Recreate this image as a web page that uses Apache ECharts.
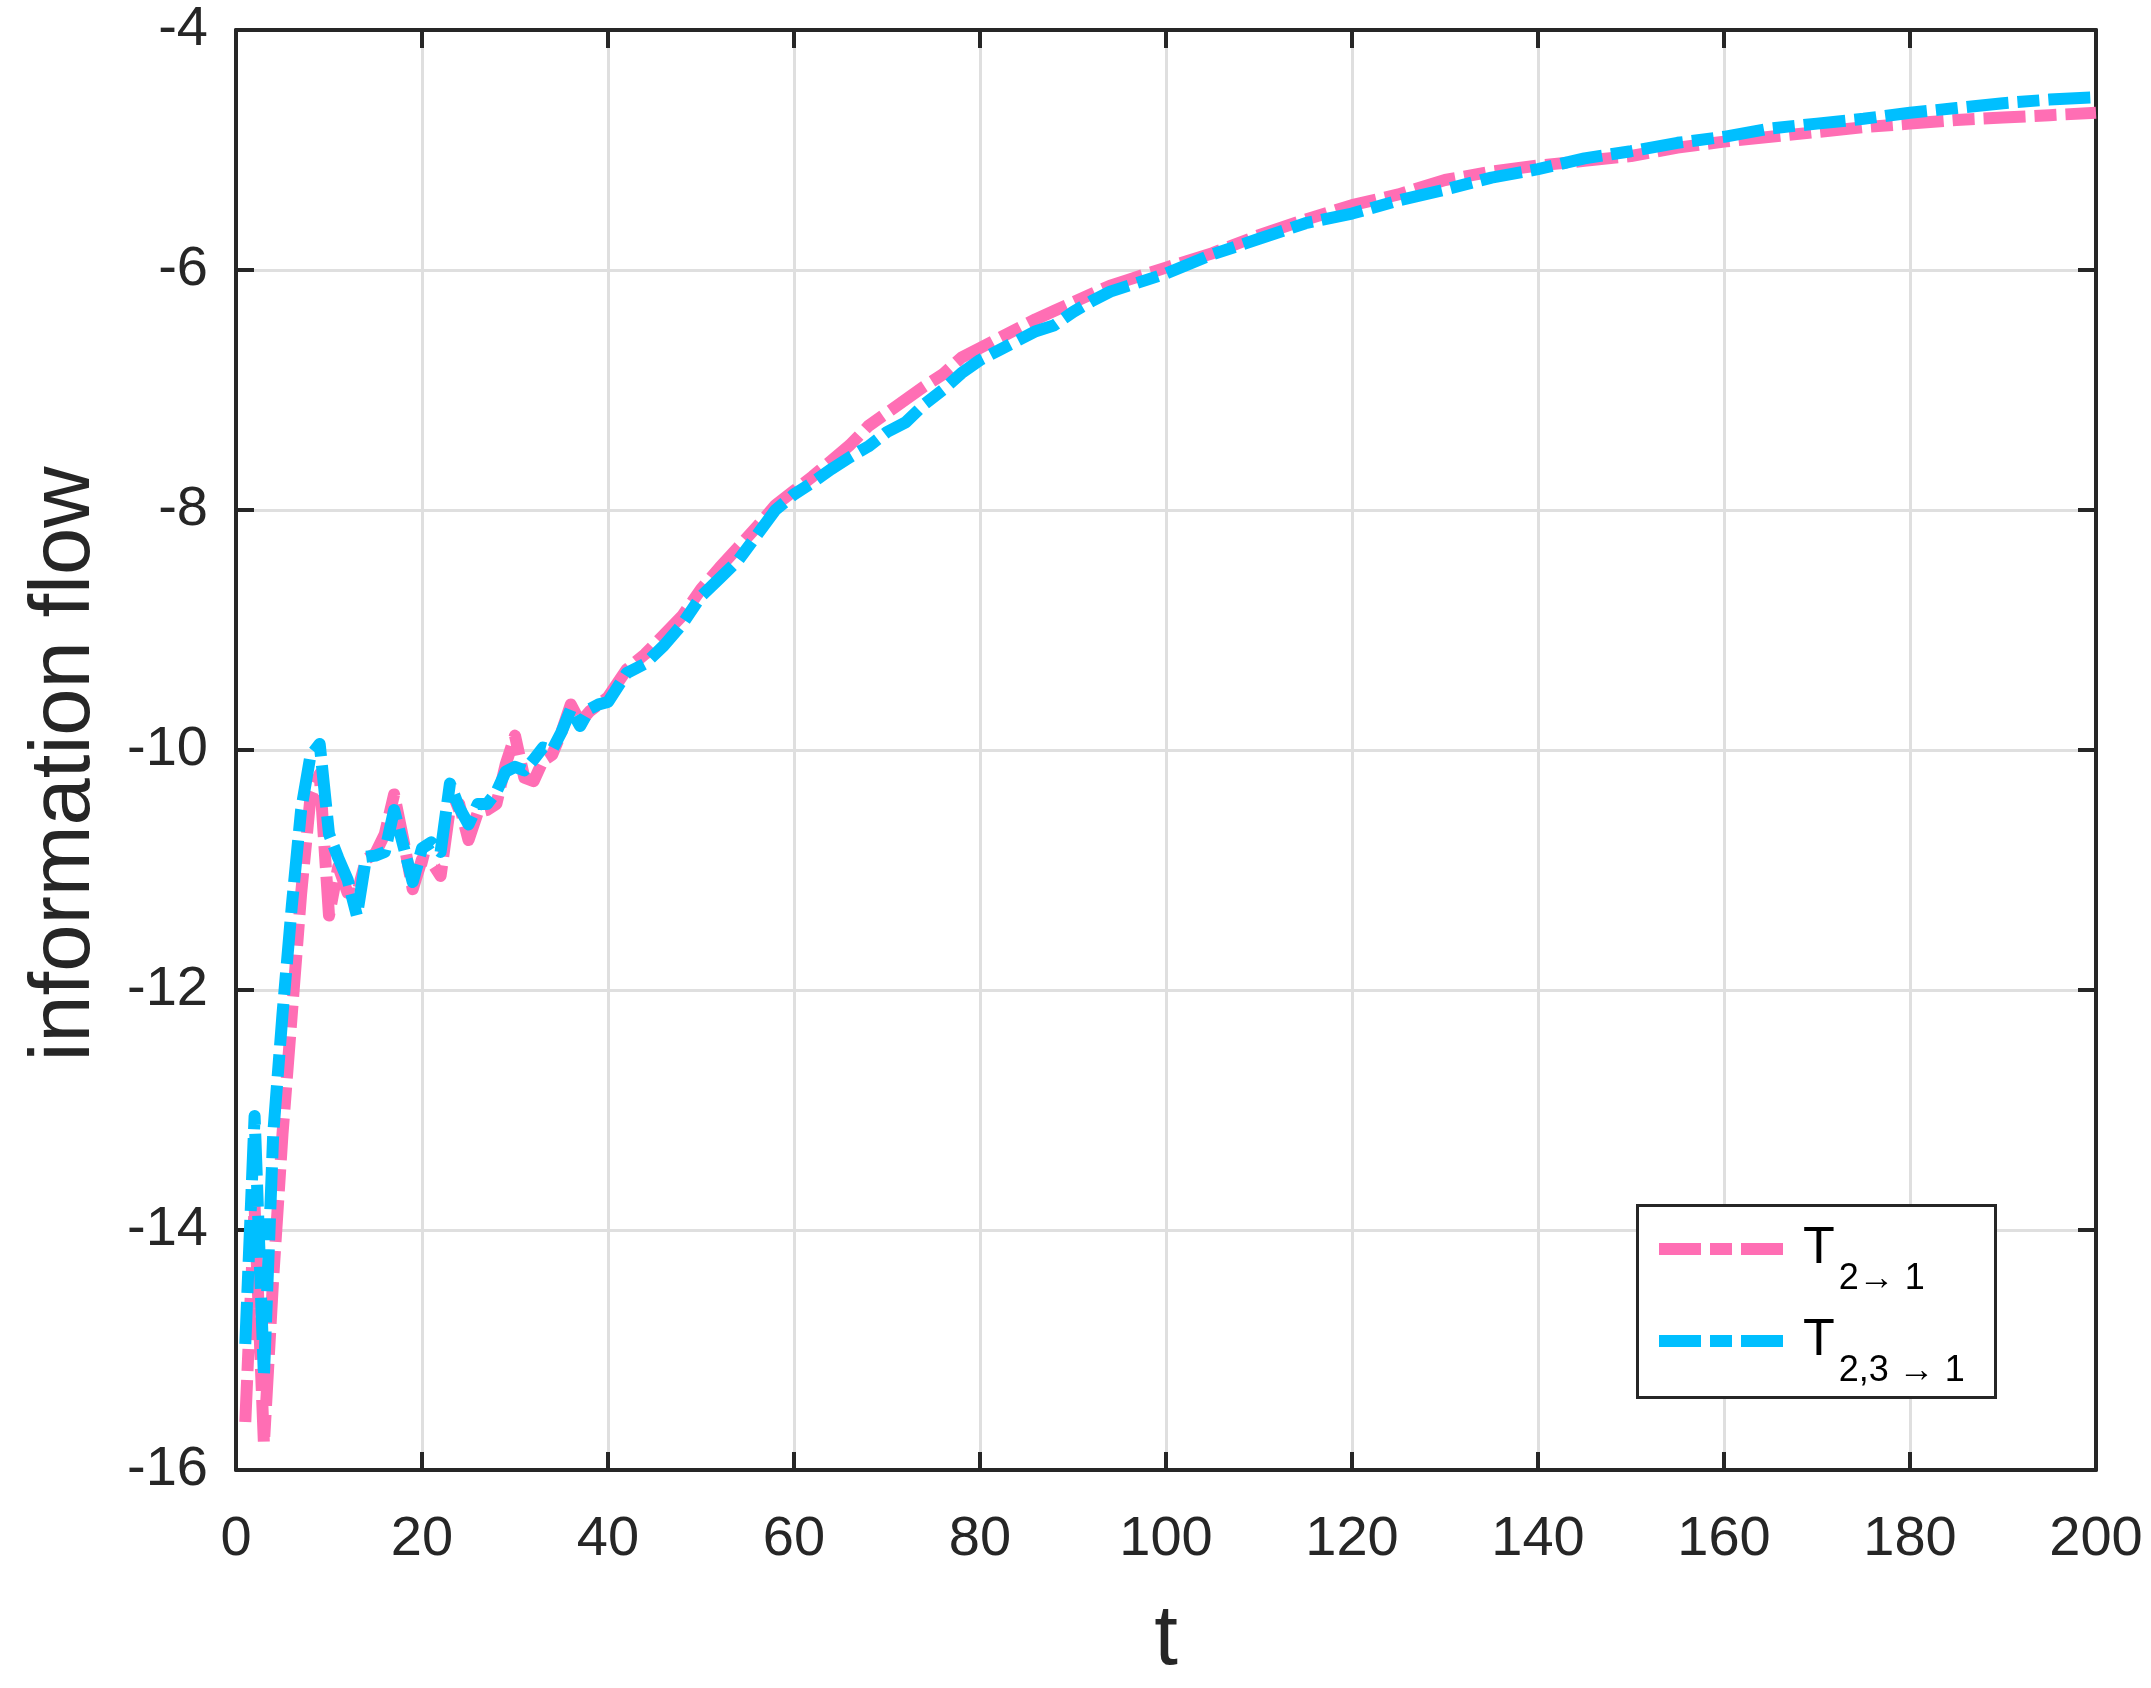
<!DOCTYPE html>
<html>
<head>
<meta charset="utf-8">
<title>information flow</title>
<script src="https://cdn.jsdelivr.net/npm/echarts@6/dist/echarts.min.js"></script>
<style>
    html, body { margin: 0; padding: 0; background: #fff; }
    #chart { width: 2151px; height: 1688px; }
</style>
</head>
<body>
<div id="chart"></div>
<script>
var tSteps = [
    1, 2, 3, 4, 5, 6, 7, 8, 9, 10,
    11, 12, 13, 14, 15, 16, 17, 18, 19, 20,
    21, 22, 23, 24, 25, 26, 27, 28, 29, 30,
    31, 32, 33, 34, 35, 36, 37, 38, 39, 40,
    42, 44, 46, 48, 50, 52, 54, 56, 58, 60,
    62, 64, 66, 68, 70, 72, 74, 76, 78, 80,
    82, 84, 86, 88, 90, 92, 94, 96, 98, 100,
    105, 110, 115, 120, 125, 130, 135, 140, 145, 150,
    155, 160, 165, 170, 175, 180, 185, 190, 195, 200
];

// T 2->1 (pink)
var flow21 = [
    -15.6, -13.8, -15.78, -14.4, -13.2, -12.2, -11.2, -10.4, -10.2, -11.38,
    -10.97, -11.19, -11.2, -10.91, -10.86, -10.7, -10.37, -10.75, -11.16, -10.91,
    -10.93, -11.05, -10.48, -10.45, -10.75, -10.52, -10.5, -10.45, -10.12, -9.88,
    -10.23, -10.26, -10.09, -10.04, -9.85, -9.62, -9.77, -9.68, -9.62, -9.56,
    -9.33, -9.2, -9.04, -8.88, -8.66, -8.48, -8.31, -8.14, -7.96, -7.84,
    -7.72, -7.59, -7.46, -7.3, -7.19, -7.08, -6.97, -6.87, -6.73, -6.65,
    -6.57, -6.49, -6.41, -6.34, -6.27, -6.2, -6.13, -6.08, -6.03, -5.98,
    -5.86, -5.71, -5.58, -5.46, -5.37, -5.25, -5.18, -5.13, -5.09, -5.05,
    -4.98, -4.93, -4.89, -4.85, -4.81, -4.78, -4.75, -4.73, -4.71, -4.69
];

// T 2,3->1 (blue)
var flow231 = [
    -14.95, -13.05, -15.22, -13.2, -12.2, -11.3, -10.5, -10.05, -9.95, -10.7,
    -10.9, -11.08, -11.38, -10.89, -10.88, -10.85, -10.5, -10.8, -11.1, -10.82,
    -10.77, -10.85, -10.28, -10.48, -10.62, -10.45, -10.45, -10.35, -10.18, -10.14,
    -10.17, -10.08, -9.98, -10.0, -9.85, -9.66, -9.8, -9.66, -9.62, -9.6,
    -9.36, -9.28, -9.13, -8.95, -8.72, -8.57, -8.42, -8.21, -8.0, -7.87,
    -7.77, -7.66, -7.56, -7.47, -7.35, -7.27, -7.12, -7.0, -6.86, -6.75,
    -6.67, -6.59, -6.51, -6.46, -6.35, -6.26, -6.18, -6.13, -6.08, -6.03,
    -5.87, -5.74, -5.61, -5.53, -5.42, -5.33, -5.23, -5.16, -5.07, -5.01,
    -4.94, -4.89, -4.82, -4.78, -4.74, -4.69, -4.65, -4.61, -4.58, -4.56
];

var seriesNames = ['T21', 'T231'];
var seriesSubs = ['2\u2192 1', '2,3 \u2192 1'];
var seriesColors = ['#ff6eb4', '#00bfff'];

var FONT = '"Liberation Sans", Arial, Helvetica, sans-serif';
var AXIS_COLOR = '#262626';
var DASH_DOT = [42, 9, 22, 9];

function pairs(xs, ys) {
    return xs.map(function (x, i) {
        return [x, ys[i]];
    });
}

function lineSeries(idx, values) {
    return {
        name: seriesNames[idx],
        type: 'line',
        data: pairs(tSteps, values),
        showSymbol: false,
        symbol: 'none',
        animation: false,
        silent: true,
        lineStyle: {
            color: seriesColors[idx],
            width: 12,
            type: DASH_DOT,
            cap: 'butt',
            join: 'round'
        },
        itemStyle: {color: seriesColors[idx]}
    };
}

// box axes (top / right) only carry the ticks
function boxAxis(pos, min, max, interval) {
    return {
        type: 'value',
        position: pos,
        min: min,
        max: max,
        interval: interval,
        axisLine: {show: true, onZero: false, lineStyle: {color: AXIS_COLOR, width: 4}},
        axisTick: {show: true, inside: true, length: 18, lineStyle: {color: AXIS_COLOR, width: 4}},
        axisLabel: {show: false},
        splitLine: {show: false}
    };
}

var myChart = echarts.init(document.getElementById('chart'));
myChart.setOption({
    backgroundColor: '#fff',
    animation: false,
    grid: {
        left: 236,
        top: 30,
        width: 1860,
        height: 1450,
        containLabel: false
    },
    xAxis: [
        {
            type: 'value',
            min: 0,
            max: 200,
            interval: 20,
            name: 't',
            nameLocation: 'middle',
            nameGap: 128,
            nameTextStyle: {fontFamily: FONT, fontSize: 85, color: AXIS_COLOR},
            axisLine: {show: true, onZero: false, lineStyle: {color: AXIS_COLOR, width: 4}},
            axisTick: {show: true, inside: true, length: 18, lineStyle: {color: AXIS_COLOR, width: 4}},
            axisLabel: {fontFamily: FONT, fontSize: 56, color: AXIS_COLOR, margin: 42},
            splitLine: {show: true, lineStyle: {color: '#dfdfdf', width: 3}}
        },
        boxAxis('top', 0, 200, 20)
    ],
    yAxis: [
        {
            type: 'value',
            min: -16,
            max: -4,
            interval: 2,
            name: 'information flow',
            nameLocation: 'middle',
            nameGap: 128,
            nameTextStyle: {fontFamily: FONT, fontSize: 85, color: AXIS_COLOR, padding: [0, 28, 0, 0]},
            axisLine: {show: true, onZero: false, lineStyle: {color: AXIS_COLOR, width: 4}},
            axisTick: {show: true, inside: true, length: 18, lineStyle: {color: AXIS_COLOR, width: 4}},
            axisLabel: {fontFamily: FONT, fontSize: 56, color: AXIS_COLOR, margin: 28},
            splitLine: {show: true, lineStyle: {color: '#dfdfdf', width: 3}}
        },
        boxAxis('right', -16, -4, 2)
    ],
    // legend frame
    graphic: [
        {
            type: 'rect',
            z: 50,
            shape: {x: 1637.5, y: 1205.5, width: 358, height: 192},
            style: {fill: '#fff', stroke: AXIS_COLOR, lineWidth: 3}
        }
    ],
    legend: {
        z: 60,
        orient: 'vertical',
        left: 1653,
        top: 1223,
        padding: 0,
        itemGap: 18,
        itemWidth: 124,
        itemHeight: 13,
        selectedMode: false,
        data: seriesNames,
        // thick dash-dot sample, no marker
        lineStyle: {width: 12, type: DASH_DOT, cap: 'butt'},
        itemStyle: {opacity: 0, borderWidth: 0},
        formatter: function (name) {
            var i = seriesNames.indexOf(name);
            return '{T|T}{s|' + seriesSubs[i] + '}';
        },
        textStyle: {
            fontFamily: FONT,
            color: '#000',
            rich: {
                T: {fontFamily: FONT, fontSize: 52, lineHeight: 52, color: '#000', verticalAlign: 'top', padding: [0, 0, 0, 15]},
                s: {fontFamily: FONT, fontSize: 36, lineHeight: 36, color: '#000', verticalAlign: 'top', padding: [38, 0, 0, 4]}
            }
        }
    },
    series: [
        lineSeries(0, flow21),
        lineSeries(1, flow231)
    ]
});
</script>
</body>
</html>
